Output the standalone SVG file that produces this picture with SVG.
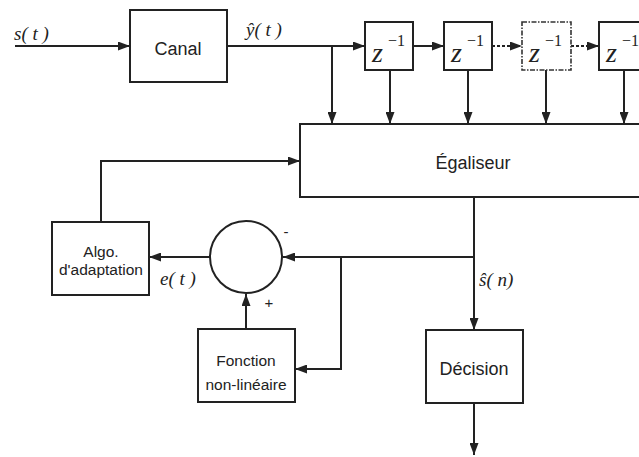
<svg xmlns="http://www.w3.org/2000/svg" width="639" height="457" viewBox="0 0 639 457">
<style>
.box{fill:#fff;stroke:#222;stroke-width:2}
.dbox{fill:#fff;stroke:#333;stroke-width:1.6;stroke-dasharray:5 1.5 1.5 1.5}
.ln{fill:none;stroke:#222;stroke-width:2}
.dl{fill:none;stroke:#222;stroke-width:2;stroke-dasharray:3 2}
.t{font-family:"Liberation Sans",Arial,sans-serif;fill:#222;text-anchor:middle}
.m{font-family:"Liberation Serif","Times New Roman",serif;font-style:italic;font-size:19px;fill:#222}
.z{font-family:"Liberation Serif","Times New Roman",serif;font-style:italic;font-size:28px;fill:#222}
.e{font-family:"Liberation Serif","Times New Roman",serif;font-size:16px;fill:#222}
</style>
<defs>
<marker id="a" viewBox="0 0 12 9" refX="12" refY="4.5" markerWidth="12" markerHeight="9" markerUnits="userSpaceOnUse" orient="auto">
<path d="M0,0 L12,4.5 L0,9 Z" fill="#222"/>
</marker>
</defs>
<rect width="639" height="457" fill="#fff"/>
<g id="connectors">
<path class="ln" d="M15,46 H130" marker-end="url(#a)"/>
<path class="ln" d="M227,46 H365" marker-end="url(#a)"/>
<path class="ln" d="M413,46 H444" marker-end="url(#a)"/>
<path class="dl" d="M492,46 H522" marker-end="url(#a)"/>
<path class="dl" d="M571,46 H599" marker-end="url(#a)"/>
<path class="ln" d="M332,46 V124" marker-end="url(#a)"/>
<path class="ln" d="M390,70 V124" marker-end="url(#a)"/>
<path class="ln" d="M468,70 V124" marker-end="url(#a)"/>
<path class="ln" d="M546,70 V124" marker-end="url(#a)"/>
<path class="ln" d="M624,70 V124" marker-end="url(#a)"/>
<path class="ln" d="M474,197 V330" marker-end="url(#a)"/>
<path class="ln" d="M474,403 V455" marker-end="url(#a)"/>
<path class="ln" d="M474,257 H283" marker-end="url(#a)"/>
<path class="ln" d="M341,257 V369 H295" marker-end="url(#a)"/>
<path class="ln" d="M246,329 V294" marker-end="url(#a)"/>
<path class="ln" d="M210,257 H149" marker-end="url(#a)"/>
<path class="ln" d="M101,222 V161 H300" marker-end="url(#a)"/>
</g>
<g id="canal">
<rect class="box" x="130" y="10" width="97" height="72"/>
<text class="t" x="178" y="55" font-size="18">Canal</text>
</g>
<g id="z1">
<rect class="box" x="365" y="22" width="48" height="48"/>
<text class="z" x="372" y="62">z</text>
<text class="e" x="388" y="46">−1</text>
</g>
<g id="z2">
<rect class="box" x="444" y="22" width="48" height="48"/>
<text class="z" x="451" y="62">z</text>
<text class="e" x="467" y="46">−1</text>
</g>
<g id="z3">
<rect class="dbox" x="522" y="22" width="49" height="48"/>
<text class="z" x="529" y="62">z</text>
<text class="e" x="545" y="46">−1</text>
</g>
<g id="z4">
<rect class="box" x="599" y="22" width="48" height="48"/>
<text class="z" x="606" y="62">z</text>
<text class="e" x="622" y="46">−1</text>
</g>
<g id="egaliseur">
<rect class="box" x="300" y="124" width="345" height="73"/>
<text class="t" x="473" y="169" font-size="18">Égaliseur</text>
</g>
<g id="sommateur">
<circle cx="246" cy="257" r="36" fill="#fff" stroke="#222" stroke-width="2"/>
<text class="t" x="286" y="237" font-size="15">-</text>
<text class="t" x="269" y="308" font-size="15">+</text>
</g>
<g id="algo">
<rect class="box" x="52" y="222" width="97" height="73"/>
<text class="t" x="101" y="257" font-size="15.5">Algo.</text>
<text class="t" x="101" y="275" font-size="15.5">d'adaptation</text>
</g>
<g id="fonction">
<rect class="box" x="198" y="329" width="97" height="73"/>
<text class="t" x="246" y="366" font-size="15.5">Fonction</text>
<text class="t" x="246" y="390" font-size="15.5">non-linéaire</text>
</g>
<g id="decision">
<rect class="box" x="426" y="330" width="97" height="73"/>
<text class="t" x="474" y="375" font-size="18">Décision</text>
</g>
<g id="labels">
<text class="m" x="14" y="40">s( t )</text>
<text class="m" x="246" y="36">ŷ( t )</text>
<text class="m" x="479" y="286">ŝ( n)</text>
<text class="m" x="160" y="285">e( t )</text>
</g>
</svg>
